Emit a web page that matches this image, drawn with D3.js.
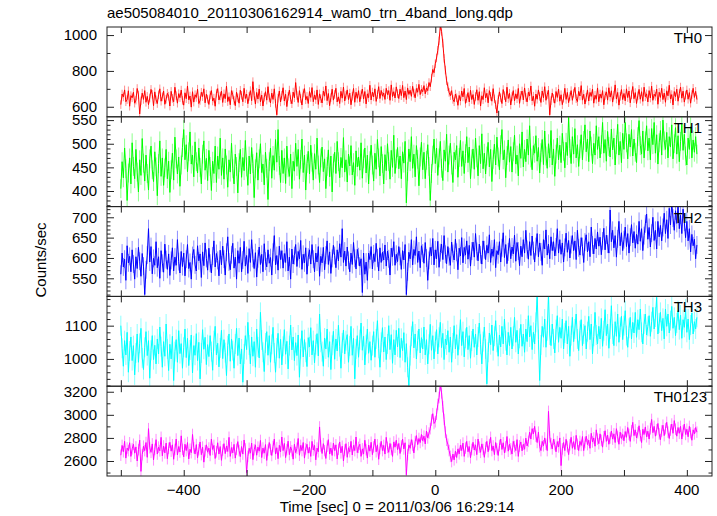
<!DOCTYPE html>
<html><head><meta charset="utf-8">
<script src="https://cdn.jsdelivr.net/npm/d3@7"></script>
<style>body{margin:0;background:#fff}svg{display:block}text{font-family:"Liberation Sans",Arial,Helvetica,sans-serif;font-size:15px;fill:#000}</style>
</head><body><svg id="c" width="717" height="516"></svg>
<script>
const title = "ae505084010_20110306162914_wam0_trn_4band_long.qdp";
const xLabel = "Time [sec] 0 = 2011/03/06 16:29:14";
const yLabel = "Counts/sec";
const bands = ["TH0", "TH1", "TH2", "TH3", "TH0123"];
const tStart = -500, tStep = 2;   // time of first bin and bin width [sec]

const th0 = [
612,671,655,694,628,640,689,603,662,650,
681,620,637,702,666,560,633,676,641,690,
625,658,612,649,697,670,606,683,639,618,
667,700,631,655,688,614,642,675,659,604,
686,647,628,709,662,620,673,651,693,635,
609,678,645,716,639,660,598,684,626,667,
652,698,618,635,681,657,700,622,670,643,
613,665,690,632,648,603,676,701,638,660,
687,624,672,645,715,629,656,611,690,667,
635,606,681,650,620,692,664,628,703,646,
671,617,658,690,634,740,662,615,680,643,
699,628,665,604,653,684,637,712,649,622,
676,641,700,619,555,648,688,627,664,706,
632,670,601,658,693,640,617,682,650,735,
663,624,690,646,610,677,701,639,658,618,
685,652,707,628,666,640,694,613,672,645,
621,688,659,716,634,674,606,651,698,637,
669,703,627,655,618,686,648,710,632,664,
694,640,676,611,659,702,625,681,647,690,
628,667,699,643,685,616,672,651,720,638,
682,655,700,630,668,712,646,691,659,677,
641,703,668,690,636,722,657,684,649,711,
673,646,698,662,719,651,688,640,705,669,
692,658,714,676,650,702,681,725,668,697,
684,718,672,705,690,735,712,760,808,790,
840,872,915,968,1050,1020,955,870,805,745,
712,680,662,690,641,628,671,650,608,663,
632,688,655,702,619,646,679,627,692,640,
668,613,657,695,636,684,604,661,640,706,
649,675,622,690,658,631,701,644,612,565,
640,683,650,618,696,662,628,709,646,675,
610,657,690,633,672,645,702,619,664,688,
638,705,652,627,681,660,716,633,659,603,
671,642,694,657,624,688,650,712,636,668,
692,555,634,677,646,620,685,652,699,631,
667,612,648,703,641,680,623,657,690,636,
676,708,645,629,686,660,718,637,670,615,
653,694,632,680,658,699,620,664,642,705,
628,671,648,690,611,662,683,637,706,654,
689,626,665,722,643,680,609,658,696,640,
674,633,700,651,688,622,667,713,645,679,
618,661,697,642,684,630,709,656,672,627,
690,649,715,636,670,658,699,614,681,652,
703,640,676,625,689,661,720,644,668,610,
685,656,698,631,674,710,648,687,626,665,
694,642,679,620,668,703,652,686,640];

const th1 = [
405,462,428,491,447,380,438,470,415,502,
452,426,488,440,398,466,433,511,459,421,
476,437,402,468,495,445,420,483,451,390,
458,506,431,470,412,449,488,426,463,397,
445,480,423,514,468,436,472,410,455,492,
530,466,498,441,483,525,457,476,430,504,
462,438,491,450,415,478,506,444,469,422,
486,452,401,463,437,495,418,474,446,512,
433,470,425,489,455,408,466,440,501,447,
415,478,452,396,460,488,429,471,443,507,
451,412,474,436,492,458,386,447,481,423,
468,500,439,457,413,482,448,382,462,491,
427,475,444,509,461,530,454,418,486,437,
470,416,495,449,431,478,405,463,442,501,
452,488,425,467,510,439,476,402,458,484,
436,497,461,423,479,446,512,455,418,470,
493,441,468,405,452,487,430,474,398,459,
482,437,505,462,428,471,449,513,440,466,
419,478,453,496,434,460,412,485,451,472,
444,502,427,468,491,438,476,415,464,497,
455,421,480,446,509,470,432,494,458,415,
477,443,500,462,425,486,450,518,437,468,
492,447,474,426,483,459,505,375,441,489,
462,515,448,478,430,496,467,411,472,503,
445,482,426,465,498,452,380,437,476,510,
458,491,433,470,505,448,422,487,463,520,
440,476,501,455,418,482,466,496,429,471,
507,452,485,437,479,515,460,493,426,468,
489,446,512,470,432,496,458,521,447,480,
436,474,503,451,488,420,467,499,455,514,
472,445,498,530,466,487,428,475,508,461,
494,440,483,518,457,476,432,500,469,525,
451,488,462,510,476,538,470,445,496,480,
517,463,492,438,481,509,456,527,474,448,
500,470,528,455,489,431,478,512,466,497,
460,522,484,449,503,475,556,490,458,515,
478,532,470,498,452,489,519,466,507,540,
483,510,462,527,495,458,501,476,538,488,
515,470,498,545,480,509,463,526,494,472,
531,487,512,455,498,541,476,505,460,522,
488,545,502,468,520,493,530,474,510,482,
460,515,549,496,478,527,470,506,538,485,
512,466,532,498,545,480,519,457,502,528,
476,550,506,488,524,470,515,493,540,468,
500,534,478,517,462,505,542,486,520,474,
455,512,488,536,470,508,482,515,478];

const th2 = [
560,612,578,597,545,630,588,604,566,620,
585,548,603,574,626,592,555,611,580,510,
571,607,672,590,628,561,599,582,640,576,
603,550,618,587,565,634,596,572,610,557,
594,625,568,602,582,645,591,563,616,579,
612,556,597,633,574,589,548,606,621,583,
568,630,593,610,552,615,581,637,599,570,
624,587,563,605,642,578,611,594,556,619,
583,629,597,558,614,652,590,571,608,636,
575,602,548,618,587,626,566,595,641,580,
606,562,623,589,645,599,574,613,553,598,
627,584,609,566,635,592,578,620,587,601,
558,614,655,583,606,570,629,596,618,575,
611,589,640,568,602,548,622,585,606,633,
579,616,598,643,572,609,588,625,560,602,
620,585,633,597,566,612,590,628,555,604,
588,626,571,607,642,584,615,562,599,631,
606,576,620,593,635,602,672,589,617,580,
627,594,566,612,584,638,599,573,621,603,
580,598,515,612,560,590,545,612,596,628,
573,610,591,636,600,568,625,589,614,595,
632,580,617,598,558,624,603,640,582,609,
591,628,604,572,618,595,633,510,566,614,
598,645,583,621,606,652,589,617,576,630,
612,587,638,600,545,594,626,605,648,583,
620,598,641,577,613,634,596,655,609,586,
628,603,582,639,611,595,646,614,571,624,
605,650,588,626,607,642,597,631,580,617,
639,602,660,616,593,634,608,585,642,620,
596,631,612,657,589,622,604,645,576,618,
608,640,590,625,662,601,633,586,615,648,
598,627,610,656,592,638,617,581,629,603,
645,612,668,621,597,640,606,654,618,590,
628,660,603,637,615,582,645,622,669,607,
634,598,652,618,640,605,627,672,612,645,
609,637,590,626,661,614,643,600,633,655,
618,642,596,668,625,607,650,628,589,639,
657,615,640,603,676,632,610,648,622,664,
629,651,608,642,673,620,656,634,612,718,
640,668,625,655,602,647,690,630,662,618,
645,676,628,660,612,651,682,637,665,624,
658,634,690,641,672,618,655,684,708,646,
675,627,661,700,643,668,622,690,652,680,
642,675,710,660,694,648,722,681,735,698,
668,716,685,730,672,705,660,720,688,650,
690,642,672,615,658,630,646,598,632];

const th3 = [
1100,1032,978,1055,1012,1080,960,1024,1066,995,
1040,952,1018,1075,990,1047,1092,1003,968,1035,
1082,1010,1055,942,1026,1070,998,1041,985,1060,
1015,1096,1037,975,1052,1008,1105,1030,965,1044,
1000,1068,935,1022,1058,990,1085,1016,1046,972,
1035,1090,1004,1062,980,1027,1072,958,1040,1011,
1076,995,1050,940,1018,1088,1029,1065,983,1043,
1007,1070,1022,966,1055,1098,1012,1047,976,1033,
1086,1001,1058,1019,950,1040,1075,993,1060,1025,
972,1045,1092,1010,1063,985,1030,930,1015,1070,
1028,1110,1042,985,1066,1008,1052,975,1090,1036,
1003,1140,1057,1020,962,1048,1082,1011,1070,990,
1044,1095,1018,960,1033,1077,1002,1059,982,1038,
1088,1014,1053,970,1040,1102,1027,1066,995,1049,
1010,1072,945,1031,1085,1006,1058,1020,977,1064,
1036,1094,1012,1055,988,1043,1076,1009,1135,1050,
1022,978,1063,1030,1090,1005,1052,968,1041,1083,
999,1060,1024,1101,1037,972,1048,1087,1015,1055,
1073,990,1039,1098,1011,1062,940,1030,1070,1005,
1058,1108,1026,1068,982,1043,1090,1017,1052,996,
1040,1082,1005,1060,1115,1032,975,1050,1094,1021,
1066,998,1045,1100,1028,1073,987,1058,1012,1086,
1036,1092,1004,1062,1025,1079,990,1046,975,920,
1010,1068,1112,1033,1075,1000,1055,1090,1018,1064,
1030,1096,1012,1058,985,1044,1104,1026,1070,1000,
1052,1088,1015,1065,1110,1034,1077,998,1060,1042,
1085,1020,1066,990,1048,1100,1030,1073,1011,1058,
1118,1040,1082,1006,1062,1095,1028,1070,1002,1054,
1090,1035,1075,1012,1066,1108,1044,985,1052,1096,
1030,925,1020,1078,1043,1102,1025,1068,1115,1050,
1008,1072,1036,1098,1045,1120,1055,1012,1080,1040,
1095,1030,1068,1125,1050,1086,1015,1062,1104,1038,
1075,1020,1090,1052,1130,1066,1100,1028,1080,1045,
1110,1195,1058,935,1042,1098,1065,1120,1035,1085,
1195,1072,1040,1105,1060,1018,1088,1130,1050,1095,
1062,1120,1030,1078,1115,1045,1098,1008,1070,1125,
1052,1090,1135,1060,1025,1085,1118,1040,1075,1100,
1030,1082,1128,1058,1105,1015,1068,1140,1072,1045,
1098,1060,1122,1038,1085,1148,1070,1105,1032,1090,
1160,1075,1040,1112,1068,1135,1050,1095,1128,1058,
1100,1145,1070,1035,1092,1125,1060,1110,1078,1140,
1065,1118,1088,1150,1080,1045,1105,1135,1072,1098,
1130,1068,1112,1155,1090,1126,1185,1075,1108,1140,
1085,1122,1060,1150,1098,1135,1078,1115,1158,1092,
1125,1070,1108,1145,1088,1132,1062,1118,1095,1150,
1080,1120,1058,1102,1138,1075,1112,1090,1125];

const th0123 = [
2650,2735,2680,2770,2625,2712,2690,2758,2640,2705,
2745,2668,2722,2600,2698,2780,2510,2655,2728,2690,
2760,2632,2880,2715,2675,2748,2610,2700,2785,2660,
2720,2688,2805,2645,2730,2670,2755,2620,2710,2762,
2685,2740,2615,2700,2790,2652,2725,2678,2818,2700,
2636,2745,2690,2760,2618,2702,2672,2830,2715,2660,
2742,2628,2698,2765,2655,2720,2590,2688,2740,2676,
2712,2648,2790,2700,2735,2622,2680,2758,2660,2725,
2606,2695,2750,2664,2730,2682,2805,2640,2716,2670,
2744,2625,2702,2768,2690,2638,2725,2660,2782,2705,
2500,2640,2710,2668,2755,2612,2698,2740,2650,2720,
2685,2778,2630,2712,2668,2742,2605,2695,2760,2700,
2648,2725,2790,2660,2715,2620,2736,2680,2808,2690,
2752,2630,2698,2772,2655,2722,2688,2616,2745,2672,
2710,2795,2650,2735,2690,2760,2625,2705,2745,2668,
2720,2640,2770,2695,2736,2610,2712,2680,2895,2730,
2665,2750,2690,2622,2728,2785,2660,2712,2648,2755,
2690,2740,2618,2702,2765,2670,2728,2600,2695,2750,
2632,2715,2680,2770,2652,2735,2690,2808,2672,2718,
2745,2640,2705,2660,2780,2698,2625,2738,2685,2762,
2655,2722,2790,2680,2740,2615,2708,2770,2690,2735,
2660,2805,2718,2675,2752,2700,2640,2765,2720,2780,
2698,2752,2665,2730,2790,2705,2758,2480,2655,2740,
2710,2785,2735,2670,2768,2820,2742,2795,2760,2830,
2775,2815,2748,2860,2800,2842,2880,2955,3010,2925,
2940,3005,3090,3150,3260,3190,3070,2960,2850,2780,
2745,2690,2640,2595,2660,2610,2685,2630,2705,2662,
2738,2690,2755,2640,2712,2770,2680,2725,2628,2700,
2762,2695,2740,2655,2790,2720,2675,2748,2700,2632,
2715,2770,2680,2742,2805,2690,2730,2655,2760,2705,
2648,2735,2790,2700,2758,2670,2722,2812,2685,2745,
2705,2660,2770,2725,2690,2785,2640,2730,2765,2688,
2745,2702,2798,2730,2770,2850,2790,2880,2835,2900,
2815,2760,2850,2725,2690,2770,2732,2800,2745,2690,
3030,2810,2750,2705,2790,2742,2680,2768,2722,2800,
2560,2705,2760,2690,2788,2725,2655,2740,2805,2710,
2768,2700,2822,2745,2690,2770,2735,2812,2690,2760,
2815,2742,2780,2710,2840,2765,2800,2728,2870,2790,
2750,2835,2778,2720,2810,2862,2770,2825,2745,2800,
2860,2790,2835,2760,2880,2812,2745,2850,2795,2830,
2775,2855,2805,2890,2830,2770,2862,2935,2820,2870,
2800,2845,2905,2820,2760,2875,2830,2895,2810,2858,
2790,2880,2960,2845,2900,2815,2870,2925,2835,2785,
2860,2910,2820,2880,2935,2850,2795,2868,2920,2840,
2950,2875,2815,2890,2840,2900,2790,2862,2920,2830,
2875,2810,2900,2845,2780,2870,2835,2890,2850];

const seriesValues = [th0, th1, th2, th3, th0123];
const errHalf = [24, 20, 22, 30, 50];            // typical 1-sigma error per band
const yDomains = [[544, 1045], [367, 557], [505.5, 726.3], [918, 1188], [2470, 3248]];
const yMajorTicks = [[600, 800, 1000], [400, 450, 500, 550], [550, 600, 650, 700], [1000, 1100], [2600, 2800, 3000, 3200]];
const yMinorStep = [100, 10, 10, 20, 100];
const xTickLabels = [-400, -200, 0, 200, 400];
const xTickStep = 100;
const colors = ["#ff0000", "#00ff00", "#0000ff", "#00ffff", "#ff00ff"];

const svg = d3.select("#c");
const L = 107, R = 712, T = 27, B = 476;
const ph = (B - T) / bands.length;
const x = d3.scaleLinear().domain([-522, 440]).range([L, R]);
const frameCol = "#222";

svg.append("text").attr("x", L).attr("y", 18).text(title);
svg.append("text").attr("transform", `translate(46,260) rotate(-90)`).attr("text-anchor", "middle").text(yLabel);
svg.append("text").attr("x", 397).attr("y", 512).attr("text-anchor", "middle").text(xLabel);

bands.forEach((name, k) => {
  const top = T + k * ph, bot = top + ph;
  const y = d3.scaleLinear().domain(yDomains[k]).range([bot, top]);
  const g = svg.append("g");
  const cid = "clip" + k;
  svg.append("clipPath").attr("id", cid).append("rect").attr("x", L).attr("y", top).attr("width", R - L).attr("height", ph);
  const vals = seriesValues[k];
  const pts = vals.map((v, i) => ({ t: tStart + i * tStep, v }));
  const dg = g.append("g").attr("clip-path", `url(#${cid})`);
  dg.selectAll("line.err").data(pts).enter().append("line")
    .attr("x1", d => x(d.t)).attr("x2", d => x(d.t))
    .attr("y1", d => y(d.v - errHalf[k])).attr("y2", d => y(d.v + errHalf[k]))
    .attr("stroke", colors[k]).attr("stroke-opacity", 0.45).attr("stroke-width", 1);
  dg.append("path").datum(pts)
    .attr("d", d3.line().x(d => x(d.t)).y(d => y(d.v)))
    .attr("fill", "none").attr("stroke", colors[k]).attr("stroke-width", 1);

  const [d0, d1] = yDomains[k];
  const minors = d3.range(Math.ceil(d0 / yMinorStep[k]) * yMinorStep[k], d1, yMinorStep[k])
    .filter(v => !yMajorTicks[k].includes(v));
  const left = d3.axisRight(y).tickValues(yMajorTicks[k]).tickSize(7).tickFormat("");
  const leftMin = d3.axisRight(y).tickValues(minors).tickSize(3.5).tickFormat("");
  const right = d3.axisLeft(y).tickValues(yMajorTicks[k]).tickSize(7).tickFormat("");
  const rightMin = d3.axisLeft(y).tickValues(minors).tickSize(3.5).tickFormat("");
  [[left, L], [leftMin, L], [right, R], [rightMin, R]].forEach(([ax, px]) => {
    const a = g.append("g").attr("transform", `translate(${px},0)`).call(ax);
    a.select(".domain").remove();
    a.selectAll("line").attr("stroke", frameCol);
  });
  yMajorTicks[k].forEach(v => {
    g.append("text").attr("x", 97).attr("y", y(v)).attr("dy", "0.35em").attr("text-anchor", "end").text(v);
  });

  const xt = d3.range(-500, 441, xTickStep);
  const topAx = d3.axisBottom(x).tickValues(xt).tickSize(6).tickFormat("");
  const botAx = d3.axisTop(x).tickValues(xt).tickSize(6).tickFormat("");
  [[topAx, top], [botAx, bot]].forEach(([ax, py]) => {
    const a = g.append("g").attr("transform", `translate(0,${py})`).call(ax);
    a.select(".domain").remove();
    a.selectAll("line").attr("stroke", frameCol);
  });

  g.append("rect").attr("x", L).attr("y", top).attr("width", R - L).attr("height", ph)
    .attr("fill", "none").attr("stroke", frameCol).attr("stroke-width", 1);

  g.append("text").attr("x", name === "TH0123" ? 707 : 702).attr("y", top + 16)
    .attr("text-anchor", "end").text(name);
});

const xb = svg.append("g");
xTickLabels.forEach(v => {
  xb.append("text").attr("x", x(v)).attr("y", 495).attr("text-anchor", "middle")
    .text(v < 0 ? "\u2212" + Math.abs(v) : String(v));
});
</script></body></html>
